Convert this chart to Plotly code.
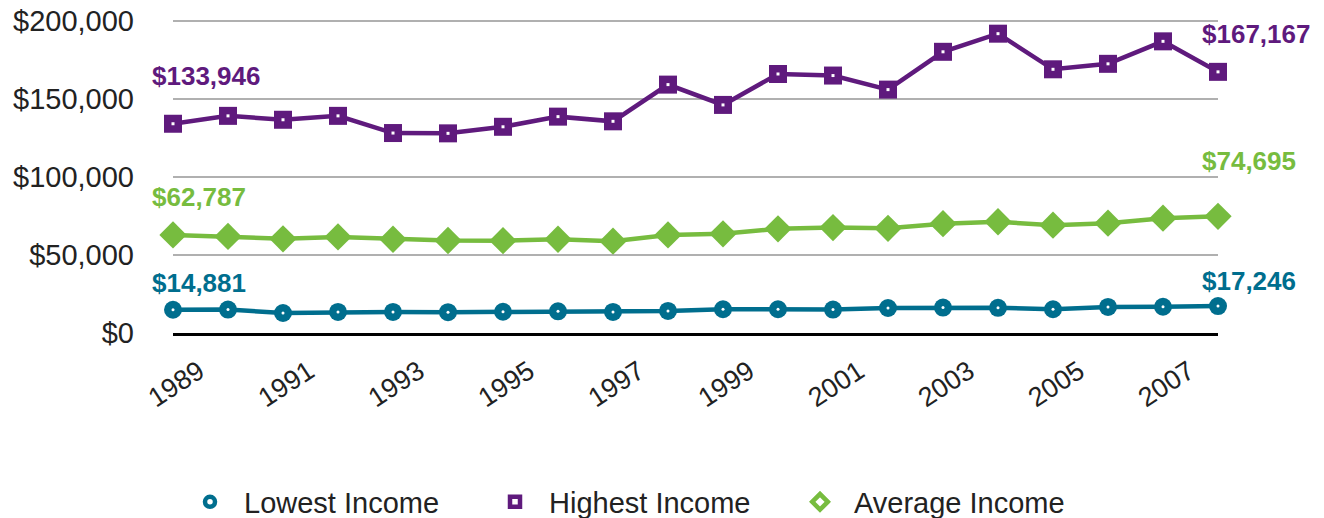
import plotly.graph_objects as go

years = list(range(1989, 2009))
lowest = [14881, 15000, 12800, 13500, 13500, 13300, 13600, 13900, 13500, 14100,
          15200, 15200, 15000, 16000, 16300, 16100, 15200, 16700, 16800, 17246]
highest = [133946, 139000, 136500, 139000, 128000, 127800, 132000, 138500, 135500, 159000,
           146000, 165800, 164800, 155800, 180000, 191600, 168800, 172300, 186700, 167167]
average = [62787, 61800, 60300, 61500, 60000, 59200, 59100, 60000, 58800, 62800,
           63500, 66700, 67500, 67000, 70000, 71200, 69000, 70300, 73500, 74695]
series_names = ["Lowest Income", "Highest Income", "Average Income"]
x_tick_years = years[::2]
y_ticks = [0, 50000, 100000, 150000, 200000]

FONT = "Liberation Sans, Arial, Helvetica, sans-serif"
TEAL = "#006E8E"
PURPLE = "#5F1A7D"
GREEN = "#77BC3F"

series = [
    (series_names[0], lowest, TEAL, "circle", 18, True),
    (series_names[1], highest, PURPLE, "square", 18, True),
    (series_names[2], average, GREEN, "diamond", 21, False),
]

fig = go.Figure()
for name, vals, col, sym, size, dot in series:
    fig.add_trace(go.Scatter(
        x=years, y=vals, mode="lines+markers", name=name, showlegend=False,
        line=dict(color=col, width=4.5),
        marker=dict(symbol=sym, size=size, color=col, line=dict(width=0)),
        cliponaxis=False, hoverinfo="skip"))
    if dot:
        fig.add_trace(go.Scatter(
            x=years, y=vals, mode="markers", showlegend=False,
            marker=dict(symbol=sym, size=3, color="white", line=dict(width=0)),
            cliponaxis=False, hoverinfo="skip"))

# legend entries
for name, vals, col, sym, size, dot in series:
    fig.add_trace(go.Scatter(
        x=[None], y=[None], mode="markers", name=name,
        marker=dict(symbol=sym + "-open", size=10 if sym != "diamond" else 12,
                    color=col, line=dict(width=4.5, color=col))))

# end labels
label_style = {
    series_names[0]: ((27, -23), (25, -18)),
    series_names[1]: ((48, -23), (38, -18)),
    series_names[2]: ((38, -23), (55, -18)),
}
for name, vals, col, sym, size, dot in series:
    (ys0, xs0), (ys1, xs1) = label_style[name]
    for idx, ys, xs in ((0, ys0, xs0), (-1, ys1, xs1)):
        fig.add_annotation(
            x=years[idx], y=vals[idx], text="${:,}".format(vals[idx]),
            showarrow=False, xanchor="left", yanchor="middle",
            xshift=xs, yshift=ys,
            font=dict(family=FONT, size=26, color=col, weight="bold"))

fig.update_layout(
    width=1324, height=518,
    margin=dict(l=173, r=106, t=19, b=185, autoexpand=False),
    paper_bgcolor="white", plot_bgcolor="white",
    font=dict(family=FONT, color="#222222"),
    legend=dict(orientation="h", xref="container", yref="container",
                x=176 / 1324, xanchor="left", y=16 / 518, yanchor="middle",
                font=dict(size=29, color="#222222"), entrywidth=232,
                itemwidth=58, itemclick=False),
    xaxis=dict(range=[years[0], years[-1]], tickvals=x_tick_years,
               ticktext=[str(y) for y in x_tick_years], tickangle=-33,
               tickfont=dict(size=27, color="#222222"),
               showgrid=False, zeroline=False, showline=True,
               linecolor="black", linewidth=3, ticks="",
               ticklabelshift=26, ticklabelstandoff=9, automargin=False),
    yaxis=dict(range=[0, 201000], tickvals=y_ticks,
               ticktext=["${:,}".format(v) for v in y_ticks],
               tickfont=dict(size=29, color="#222222"),
               showgrid=True, gridcolor="#B0B0B0", gridwidth=2,
               zeroline=False, showline=False, ticks="",
               ticklabelstandoff=38, automargin=False),
)

fig.write_html("out.html", config={"displayModeBar": False},
               post_script="document.body.style.margin='0px';")
